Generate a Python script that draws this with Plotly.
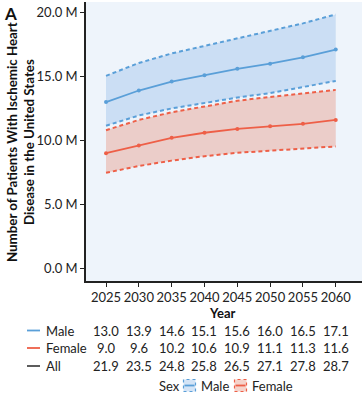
import plotly.graph_objects as go

years = [2025, 2030, 2035, 2040, 2045, 2050, 2055, 2060]
male = [13.0, 13.9, 14.6, 15.1, 15.6, 16.0, 16.5, 17.1]
female = [9.0, 9.6, 10.2, 10.6, 10.9, 11.1, 11.3, 11.6]
all_sex = [21.9, 23.5, 24.8, 25.8, 26.5, 27.1, 27.8, 28.7]
male_upper = [15.05, 16.05, 16.8, 17.4, 18.0, 18.55, 19.15, 19.85]
male_lower = [11.15, 11.95, 12.5, 12.95, 13.35, 13.7, 14.15, 14.65]
female_upper = [10.8, 11.6, 12.2, 12.65, 13.1, 13.4, 13.65, 13.95]
female_lower = [7.47, 8.0, 8.42, 8.77, 9.03, 9.2, 9.36, 9.53]
y_ticks = [0, 5, 10, 15, 20]

MALE_C = "#5A9FD8"
FEMALE_C = "#EE5F47"
ALL_C = "#4A4A4A"
MALE_FILL = "rgba(160,195,235,0.45)"
FEMALE_FILL = "rgba(232,150,130,0.42)"
PANEL = "#EEF4FB"
FONT = "Lato"

fig = go.Figure()


def band(lower, upper, line_c, fill_c):
    fig.add_trace(go.Scatter(x=years, y=lower, mode="lines",
                             line=dict(color=line_c, width=2, dash="4px,3px"),
                             hoverinfo="skip", showlegend=False))
    fig.add_trace(go.Scatter(x=years, y=upper, mode="lines", fill="tonexty",
                             fillcolor=fill_c,
                             line=dict(color=line_c, width=2, dash="4px,3px"),
                             hoverinfo="skip", showlegend=False))


band(male_lower, male_upper, MALE_C, MALE_FILL)
band(female_lower, female_upper, FEMALE_C, FEMALE_FILL)

for vals, c in [(male, MALE_C), (female, FEMALE_C)]:
    fig.add_trace(go.Scatter(x=years, y=vals, mode="lines+markers",
                             line=dict(color=c, width=1.8),
                             marker=dict(color=c, size=4),
                             showlegend=False))

# pixel -> paper helpers for the layout (plot area: x 86..362, y 2..281)
PL, PR, PT, PB = 86, 362, 2, 281


def px(x):
    return (x - PL) / (PR - PL)


def py(y):
    return (PB - y) / (PB - PT)


TXT = dict(size=13, family=FONT, color="#222")
ann = []
shapes = []
ann.append(dict(text="<b>Year</b>", x=px(222), y=py(313), xref="paper", yref="paper",
                xanchor="center", yanchor="middle", showarrow=False,
                font=dict(size=13, family=FONT, color="#111")))

rows = [("Male", male, MALE_C, 330.5), ("Female", female, FEMALE_C, 348),
        ("All", all_sex, ALL_C, 366)]
for name, vals, c, ypix in rows:
    shapes.append(dict(type="line", xref="paper", yref="paper",
                       x0=px(27), x1=px(40), y0=py(ypix), y1=py(ypix),
                       line=dict(color=c, width=1.8)))
    ann.append(dict(text=name, x=px(44), y=py(ypix), xref="paper", yref="paper",
                    xanchor="left", yanchor="middle", showarrow=False, font=TXT))
    for yr, v in zip(years, vals):
        ann.append(dict(text=f"{v:.1f}", x=yr, y=py(ypix), xref="x", yref="paper",
                        xanchor="center", yanchor="middle", showarrow=False, font=TXT))

# custom legend
LY = 385.5
ann.append(dict(text="Sex", x=px(157), y=py(LY), xref="paper", yref="paper",
                xanchor="left", yanchor="middle", showarrow=False, font=TXT))
for name, x0, c, fill in [("Male", 183.5, MALE_C, MALE_FILL), ("Female", 234.5, FEMALE_C, FEMALE_FILL)]:
    shapes.append(dict(type="rect", xref="paper", yref="paper",
                       x0=px(x0), x1=px(x0 + 12), y0=py(LY + 6), y1=py(LY - 6),
                       fillcolor=fill, line=dict(color=c, width=1.2, dash="dot")))
    shapes.append(dict(type="line", xref="paper", yref="paper",
                       x0=px(x0 + 1), x1=px(x0 + 11), y0=py(LY), y1=py(LY),
                       line=dict(color=c, width=1.8)))
    ann.append(dict(text=name, x=px(x0 + 15), y=py(LY), xref="paper", yref="paper",
                    xanchor="left", yanchor="middle", showarrow=False, font=TXT))

# y-axis title and panel label
ann.append(dict(text="<b>Number of Patients With Ischemic Heart<br>Disease in the United States</b>",
                x=px(20), y=py(142), xref="paper", yref="paper", textangle=-90,
                xanchor="center", yanchor="middle",
                showarrow=False, font=dict(size=13.3, family=FONT, color="#111")))
ann.append(dict(text="<b>A</b>", x=px(2), y=py(1), xref="paper", yref="paper",
                xanchor="left", yanchor="top", showarrow=False,
                font=dict(size=17, family=FONT, color="#111")))

fig.update_layout(
    width=362, height=398,
    margin=dict(l=PL, r=0, t=PT, b=398 - PB, autoexpand=False),
    paper_bgcolor="white", plot_bgcolor=PANEL,
    font=dict(family=FONT, size=13, color="#222"),
    annotations=ann, shapes=shapes, showlegend=False,
)
fig.update_xaxes(range=[2021.95, 2064.0], tickvals=years,
                 ticktext=[str(y) for y in years], automargin=False,
                 showgrid=False, zeroline=False, showline=True,
                 linecolor="#222", linewidth=1.5, ticks="outside", ticklen=4,
                 tickcolor="#222", tickfont=TXT)
fig.update_yaxes(range=[-0.99, 20.82], tickvals=y_ticks,
                 ticktext=[f"{v:.1f} M" for v in y_ticks], automargin=False,
                 showgrid=False, zeroline=False, showline=True,
                 linecolor="#222", linewidth=1.5, ticks="outside", ticklen=4,
                 tickcolor="#222", tickfont=TXT)

fig.write_html("out.html", config={"displayModeBar": False},
               post_script="document.body.style.margin='0';document.body.style.overflow='hidden';")
